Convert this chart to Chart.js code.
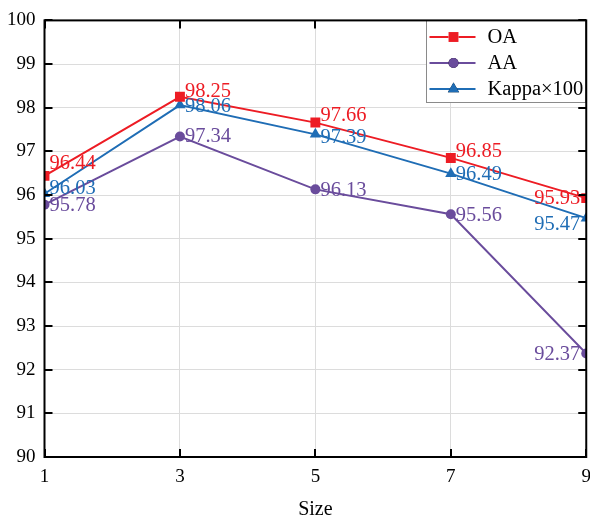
<!DOCTYPE html>
<html><head><meta charset="utf-8">
<script src="https://cdn.jsdelivr.net/npm/chart.js@4"></script>
<style>html,body{margin:0;padding:0;overflow:hidden;background:#fff}#wrap{width:600px;height:515px}</style>
</head><body><div id="wrap"><canvas id="c" width="600" height="515"></canvas></div>
<script>
const sizes = ['1', '3', '5', '7', '9'];
const oaValues = [96.44, 98.25, 97.66, 96.85, 95.93];
const aaValues = [95.78, 97.34, 96.13, 95.56, 92.37];
const kappaValues = [96.03, 98.06, 97.39, 96.49, 95.47];
const seriesNames = ['OA', 'AA', 'Kappa×100'];
const yMin = 90, yMax = 100, yStep = 1;
const xTitle = 'Size';

const FONT = "'Liberation Serif', 'Times New Roman', serif";
const colors = ['#ED1C24', '#6A4C9C', '#1F6DB5'];
// vertical label offsets (ink centre relative to point), per series per point
const labelDy = [
  [-14, -7, -8, -8, -1],
  [0, -1.5, 0, 0, 0],
  [-7, 0, 2, 0, 5]
];

const datasets = [
  {label: seriesNames[0], data: oaValues, borderColor: colors[0], backgroundColor: colors[0], pointStyle: 'rect', pointRadius: 7},
  {label: seriesNames[1], data: aaValues, borderColor: colors[1], backgroundColor: colors[1], pointStyle: 'circle', pointRadius: 5},
  {label: seriesNames[2], data: kappaValues, borderColor: colors[2], backgroundColor: colors[2], pointStyle: 'triangle', pointRadius: 6.5}
].map(d => Object.assign(d, {borderWidth: 1.9, pointBorderWidth: 0, pointHoverRadius: d.pointRadius, tension: 0, clip: 0, fill: false}));

const decor = {
  id: 'decor',
  afterDatasetsDraw(chart) {
    const ctx = chart.ctx, a = chart.chartArea;
    const xs = chart.scales.x, ys = chart.scales.y;
    ctx.save();
    // inward ticks
    ctx.strokeStyle = '#000'; ctx.lineWidth = 2;
    ctx.beginPath();
    xs.ticks.forEach((t, i) => {
      const px = Math.round(xs.getPixelForTick(i));
      ctx.moveTo(px, a.bottom); ctx.lineTo(px, a.bottom - 8);
      ctx.moveTo(px, a.top); ctx.lineTo(px, a.top + 8);
    });
    ys.ticks.forEach((t, i) => {
      const py = Math.round(ys.getPixelForTick(i));
      ctx.moveTo(a.left, py); ctx.lineTo(a.left + 8, py);
      ctx.moveTo(a.right, py); ctx.lineTo(a.right - 8, py);
    });
    ctx.stroke();
    // legend
    const lw = 159, lh = 82;
    const lx = Math.round(a.right - 1 - lw) + 0.5, ly = Math.round(a.top) + 0.5;
    ctx.fillStyle = '#fff';
    ctx.fillRect(lx, ly, lw, lh);
    ctx.strokeStyle = '#8a8a8a'; ctx.lineWidth = 1;
    ctx.strokeRect(lx, ly, lw, lh);
    chart.data.datasets.forEach((ds, i) => {
      const cy = ly + 16.5 + i * 26;
      ctx.strokeStyle = ds.borderColor; ctx.lineWidth = 1.9;
      ctx.beginPath(); ctx.moveTo(lx + 3, cy); ctx.lineTo(lx + 49, cy); ctx.stroke();
      Chart.helpers.drawPoint(ctx, {pointStyle: ds.pointStyle, radius: ds.pointRadius, rotation: 0, borderWidth: 0}, lx + 27, cy);
      ctx.fillStyle = ds.borderColor; ctx.fill();
      ctx.fillStyle = '#000';
      ctx.font = '20.5px ' + FONT;
      ctx.textAlign = 'left'; ctx.textBaseline = 'middle';
      ctx.fillText(ds.label, lx + 61, cy + 1);
    });
    // frame
    ctx.strokeStyle = '#000'; ctx.lineWidth = 2;
    ctx.strokeRect(a.left, a.top, a.right - a.left, a.bottom - a.top);
    // data labels
    ctx.font = '20.5px ' + FONT;
    ctx.textBaseline = 'alphabetic';
    chart.data.datasets.forEach((ds, i) => {
      const meta = chart.getDatasetMeta(i);
      ctx.fillStyle = ds.borderColor;
      meta.data.forEach((pt, j) => {
        const last = j === meta.data.length - 1;
        ctx.textAlign = last ? 'right' : 'left';
        const txt = ds.data[j].toFixed(2);
        ctx.fillText(txt, pt.x + (last ? -6 : 5), pt.y + labelDy[i][j] + 6.8);
      });
    });
    ctx.restore();
  }
};

new Chart(document.getElementById('c'), {
  type: 'line',
  data: {labels: sizes, datasets},
  options: {
    responsive: false, animation: false, devicePixelRatio: 1,
    layout: {padding: {top: 20, right: 11, left: 0, bottom: 0}},
    plugins: {legend: {display: false}, tooltip: {enabled: false}},
    scales: {
      x: {
        type: 'category', offset: false,
        grid: {color: '#dcdcdc', lineWidth: 1, drawTicks: false},
        border: {display: false},
        ticks: {color: '#000', font: {family: FONT, size: 19}, padding: 9, maxRotation: 0, autoSkip: false},
        title: {display: true, text: xTitle, color: '#000', font: {family: FONT, size: 20}, padding: {top: 0, bottom: -7}},
        afterFit(s) { s.height = 58; }
      },
      y: {
        min: yMin, max: yMax,
        grid: {color: '#dcdcdc', lineWidth: 1, drawTicks: false},
        border: {display: false},
        ticks: {stepSize: yStep, color: '#000', font: {family: FONT, size: 19}, padding: 9},
        afterFit(s) { s.width = 44.5; }
      }
    }
  },
  plugins: [decor]
});
</script></body></html>
